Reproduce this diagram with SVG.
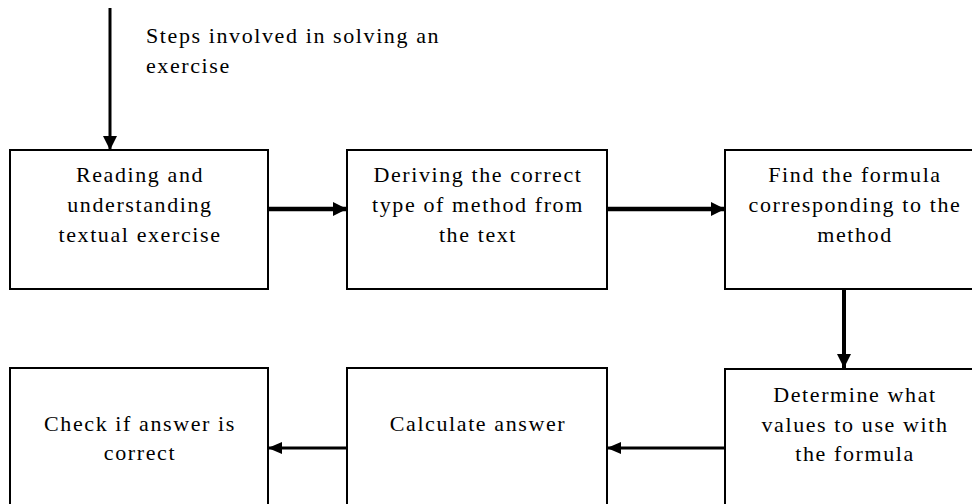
<svg xmlns="http://www.w3.org/2000/svg" width="972" height="504" viewBox="0 0 972 504" font-family="Liberation Serif, DejaVu Serif, serif">
<style>
.box{fill:#fff;stroke:#000;stroke-width:2}
.t{font-size:22px;letter-spacing:1.6px;fill:#000}
.c{text-anchor:middle}
.ln{stroke:#000;fill:none}
</style>
<defs>
<marker id="ah" markerUnits="userSpaceOnUse" markerWidth="16" markerHeight="16" refX="14" refY="7" orient="auto">
<path d="M0,0 L14,7 L0,14 Z" fill="#000"/>
</marker>
<marker id="ahs" markerUnits="userSpaceOnUse" markerWidth="16" markerHeight="14" refX="14" refY="6" orient="auto">
<path d="M0,0 L14,6 L0,12 Z" fill="#000"/>
</marker>
</defs>
<rect width="972" height="504" fill="#fff"/>
<g id="connectors">
<line class="ln" x1="110" y1="8" x2="110" y2="150" stroke-width="3" marker-end="url(#ah)"/>
<line class="ln" x1="268" y1="209" x2="347" y2="209" stroke-width="4.5" marker-end="url(#ah)"/>
<line class="ln" x1="607" y1="209" x2="725" y2="209" stroke-width="4.5" marker-end="url(#ah)"/>
<line class="ln" x1="844" y1="289" x2="844" y2="368" stroke-width="4" marker-end="url(#ah)"/>
<line class="ln" x1="725" y1="448" x2="607" y2="448" stroke-width="3" marker-end="url(#ahs)"/>
<line class="ln" x1="347" y1="448" x2="268" y2="448" stroke-width="3" marker-end="url(#ahs)"/>
</g>
<g id="label">
<text class="t" x="146" y="43">Steps involved in solving an</text>
<text class="t" x="146" y="73">exercise</text>
</g>
<g id="n1">
<rect class="box" x="10" y="150" width="258" height="139"/>
<text class="t c" x="140" y="182">Reading and</text>
<text class="t c" x="140" y="212">understanding</text>
<text class="t c" x="140" y="242">textual exercise</text>
</g>
<g id="n2">
<rect class="box" x="347" y="150" width="260" height="139"/>
<text class="t c" x="478" y="182">Deriving the correct</text>
<text class="t c" x="478" y="212">type of method from</text>
<text class="t c" x="478" y="242">the text</text>
</g>
<g id="n3">
<rect class="box" x="725" y="150" width="260" height="139"/>
<text class="t c" x="855" y="182">Find the formula</text>
<text class="t c" x="855" y="212">corresponding to the</text>
<text class="t c" x="855" y="242">method</text>
</g>
<g id="n4">
<rect class="box" x="725" y="369" width="260" height="145"/>
<text class="t c" x="855" y="402">Determine what</text>
<text class="t c" x="855" y="432">values to use with</text>
<text class="t c" x="855" y="461">the formula</text>
</g>
<g id="n5">
<rect class="box" x="347" y="368" width="260" height="145"/>
<text class="t c" x="478" y="431">Calculate answer</text>
</g>
<g id="n6">
<rect class="box" x="10" y="368" width="258" height="145"/>
<text class="t c" x="140" y="431">Check if answer is</text>
<text class="t c" x="140" y="460">correct</text>
</g>
</svg>
